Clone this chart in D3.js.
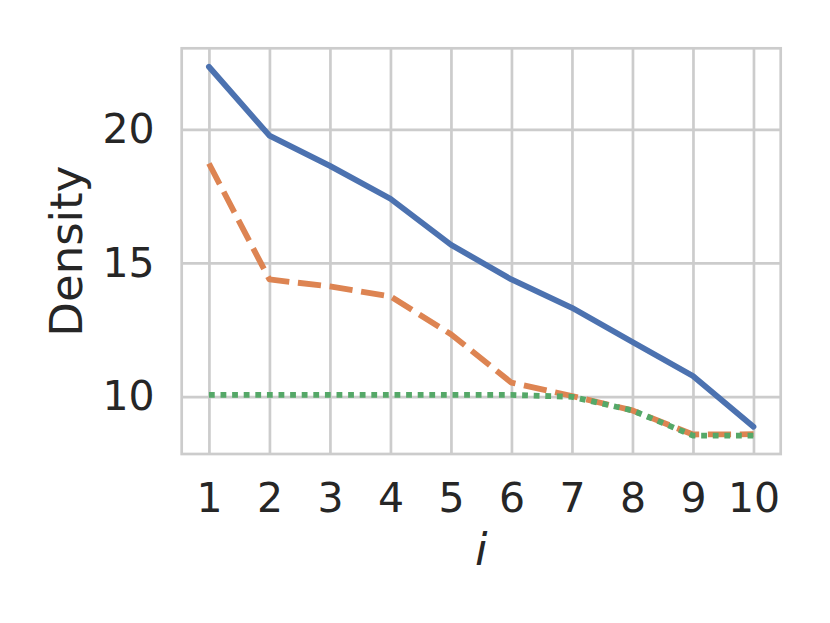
<!DOCTYPE html>
<html>
<head>
<meta charset="utf-8">
<script src="https://cdn.jsdelivr.net/npm/d3@7"></script>
<style>
  html, body { margin: 0; padding: 0; background: #fff; }
  svg text { font-family: "DejaVu Sans", sans-serif; fill: #262626; }
</style>
</head>
<body>
<div id="chart"></div>
<script>
(function(){
	var idx = [1, 2, 3, 4, 5, 6, 7, 8, 9, 10];
	var solidSeries = [22.34, 19.76, 18.63, 17.40, 15.68, 14.38, 13.32, 12.04, 10.77, 8.87];
	var dashedSeries = [18.72, 14.38, 14.12, 13.75, 12.33, 10.52, 10.02, 9.48, 8.58, 8.59];
	var dottedSeries = [10.06, 10.06, 10.06, 10.06, 10.06, 10.06, 9.99, 9.48, 8.54, 8.54];
	var yTicks = [10, 15, 20];

	var width = 830, height = 623;
	var margin = {top: 48.3, left: 181.7, right: 830 - 780.7, bottom: 623 - 454};
	var innerW = width - margin.left - margin.right,
		innerH = height - margin.top - margin.bottom;

	var lw = 5.8;
	var series = [
		{values: solidSeries, color: "#4c72b0", dash: null},
		{values: dashedSeries, color: "#dd8452", dash: (4 * lw) + "," + (1.5 * lw)},
		{values: dottedSeries, color: "#55a868", dash: lw + "," + lw}
	];

	var svg = d3.select("#chart")
				.append("svg")
				.attr("width", width)
				.attr("height", height)
				.append("g")
				.attr("transform", "translate(" + margin.left + "," + margin.top + ")");

	// matplotlib style 5% padding
	var xPad = (d3.max(idx) - d3.min(idx)) * 0.05;
	var x = d3.scaleLinear()
			  .domain([d3.min(idx) - xPad, d3.max(idx) + xPad])
			  .range([0, innerW]);

	var all = solidSeries.concat(dashedSeries, dottedSeries);
	var yMin = d3.min(all), yMax = d3.max(all), yPad = (yMax - yMin) * 0.05;
	var y = d3.scaleLinear()
			  .domain([yMin - yPad, yMax + yPad])
			  .range([innerH, 0]);

	var gridColor = "#cccccc";

	// grid
	svg.append("g")
	   .attr("class", "x-grid")
	   .attr("transform", "translate(0," + innerH + ")")
	   .call(d3.axisBottom(x).tickValues(idx).tickSize(-innerH).tickFormat(""))
	   .call(function(g){
			g.select(".domain").remove();
			g.selectAll("line").attr("stroke", gridColor).attr("stroke-width", 2.7);
	   });

	svg.append("g")
	   .attr("class", "y-grid")
	   .call(d3.axisLeft(y).tickValues(yTicks).tickSize(-innerW).tickFormat(""))
	   .call(function(g){
			g.select(".domain").remove();
			g.selectAll("line").attr("stroke", gridColor).attr("stroke-width", 2.7);
	   });

	// lines
	var line = d3.line()
				 .x(function(d, i){ return x(idx[i]); })
				 .y(function(d){ return y(d); });

	series.forEach(function(s){
		svg.append("path")
		   .datum(s.values)
		   .attr("fill", "none")
		   .attr("stroke", s.color)
		   .attr("stroke-width", lw)
		   .attr("stroke-linejoin", "round")
		   .attr("stroke-linecap", s.dash ? "butt" : "round")
		   .attr("stroke-dasharray", s.dash)
		   .attr("d", line);
	});

	// frame
	svg.append("rect")
	   .attr("x", 0).attr("y", 0)
	   .attr("width", innerW).attr("height", innerH)
	   .attr("fill", "none")
	   .attr("stroke", gridColor)
	   .attr("stroke-width", 2.7);

	// tick labels
	var xAxis = svg.append("g")
	   .attr("transform", "translate(0," + innerH + ")")
	   .call(d3.axisBottom(x).tickValues(idx).tickSize(0).tickPadding(29));
	xAxis.select(".domain").remove();
	xAxis.selectAll("text").style("font-size", "41px").attr("fill", "#262626");

	var yAxis = svg.append("g")
	   .call(d3.axisLeft(y).tickValues(yTicks).tickSize(0).tickPadding(27));
	yAxis.select(".domain").remove();
	yAxis.selectAll("text").style("font-size", "41px").attr("fill", "#262626");

	// axis labels
	svg.append("text")
	   .attr("x", innerW / 2)
	   .attr("y", innerH + 111)
	   .attr("text-anchor", "middle")
	   .style("font-size", "45px")
	   .style("font-style", "italic")
	   .text("i");

	svg.append("text")
	   .attr("transform", "translate(" + (82 - margin.left) + "," + (innerH / 2) + ") rotate(-90)")
	   .attr("text-anchor", "middle")
	   .style("font-size", "45px")
	   .text("Density");
})();
</script>
</body>
</html>
